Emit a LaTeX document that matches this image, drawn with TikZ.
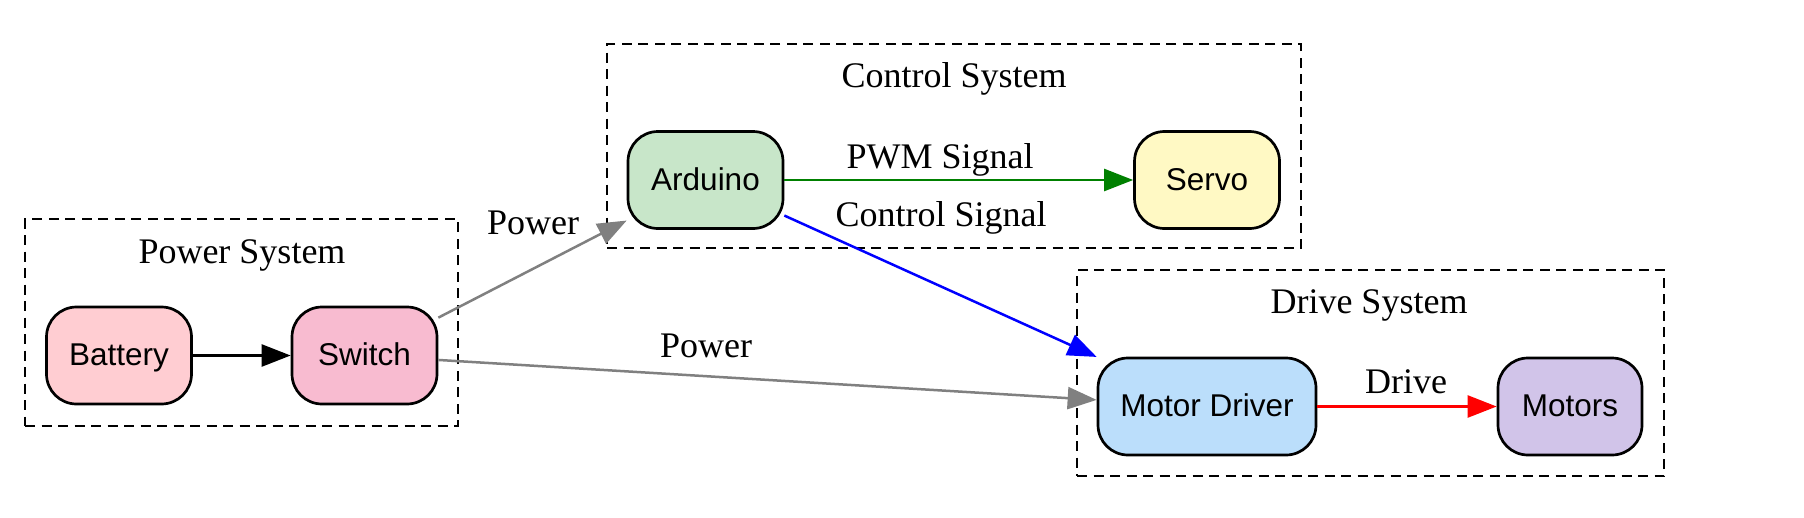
\documentclass[tikz,border=0pt]{standalone}
\usepackage{fontspec}
\setmainfont{Liberation Serif}
\newfontfamily\nodefont{Liberation Sans}
\usetikzlibrary{arrows.meta}
\definecolor{cBattery}{HTML}{FFCDD2}
\definecolor{cSwitch}{HTML}{F8BBD0}
\definecolor{cArduino}{HTML}{C8E6C9}
\definecolor{cServo}{HTML}{FFF9C4}
\definecolor{cDriver}{HTML}{BBDEFB}
\definecolor{cMotors}{HTML}{D1C4E9}
\definecolor{cGray}{HTML}{808080}
\definecolor{cGreen}{HTML}{008000}
\definecolor{cBlue}{HTML}{0000FF}
\definecolor{cRed}{HTML}{FF0000}
\begin{document}
\begin{tikzpicture}[x=1pt,y=-1pt,
  box/.style={draw=black, line width=2.7pt, rounded corners=30pt, minimum height=97pt,
    font=\nodefont\fontsize{31.5}{35}\selectfont, text height=22pt, text depth=2pt, inner sep=0pt},
  cluster/.style={draw=black, line width=2.7pt, dash pattern=on 10pt off 6.5pt, inner sep=0pt},
  ctitle/.style={font=\fontsize{36}{40}\selectfont, anchor=base, inner sep=0pt},
  edge/.style={line width=2.5pt, -{Triangle[length=29pt,width=22pt]}},
  elabel/.style={font=\fontsize{36}{40}\selectfont, anchor=base, inner sep=0pt, text=black}
]
\useasboundingbox (0,0) rectangle (1804,517);
\fill[white] (0,0) rectangle (1804,517);

% clusters
\node[cluster, minimum width=433pt, minimum height=207pt] (pwrbox) at (241.5,322.5) {};
\node[ctitle] (pwrtitle) at (242,263) {Power System};
\node[cluster, minimum width=694pt, minimum height=204pt] (ctlbox) at (954,146) {};
\node[ctitle] (ctltitle) at (954,87) {Control System};
\node[cluster, minimum width=587pt, minimum height=206pt] (drvbox) at (1370.5,373) {};
\node[ctitle] (drvtitle) at (1369,313) {Drive System};

% nodes
\node[box, fill=cBattery, minimum width=145pt] (battery) at (119,355.5) {Battery};
\node[box, fill=cSwitch, minimum width=145pt] (switch) at (364.5,355.5) {Switch};
\node[box, fill=cArduino, minimum width=155pt] (arduino) at (705.5,180) {Arduino};
\node[box, fill=cServo, minimum width=145pt] (servo) at (1207,180) {Servo};
\node[box, fill=cDriver, minimum width=218pt] (driver) at (1207,406.5) {Motor Driver};
\node[box, fill=cMotors, minimum width=144pt] (motors) at (1570,406.5) {Motors};

% edges
\draw[edge, draw=black] (battery) -- (switch);
\draw[edge, draw=cGray] (switch) -- (arduino) node[elabel] at (533,234) {Power};
\draw[edge, draw=cGray] (switch) -- (driver) node[elabel] at (706,357) {Power};
\draw[edge, draw=cGreen] (arduino) -- (servo) node[elabel] at (940,168) {PWM Signal};
\draw[edge, draw=cBlue] (arduino) -- (driver) node[elabel] at (941,226) {Control Signal};
\draw[edge, draw=cRed] (driver) -- (motors) node[elabel] at (1406,393) {Drive};
\end{tikzpicture}
\end{document}
